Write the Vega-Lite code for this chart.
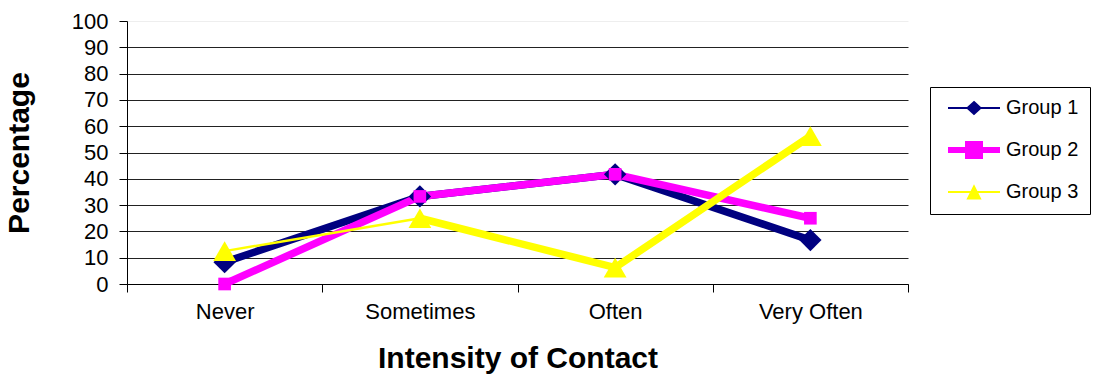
{
  "$schema": "https://vega.github.io/schema/vega-lite/v6.json",
  "width": 781,
  "height": 263,
  "autosize": {"type": "none"},
  "padding": {"left": 127, "top": 21, "right": 189, "bottom": 104},
  "background": "white",
  "config": {
    "font": "Liberation Sans",
    "view": {"stroke": null},
    "axis": {"labelFont": "Liberation Sans", "titleFont": "Liberation Sans", "labelColor": "black", "titleColor": "black"}
  },
  "data": {
    "values": [
      {"contact": "Never", "group": "Group 1", "pct": 8.3},
      {"contact": "Sometimes", "group": "Group 1", "pct": 33.3},
      {"contact": "Often", "group": "Group 1", "pct": 41.7},
      {"contact": "Very Often", "group": "Group 1", "pct": 16.7},
      {"contact": "Never", "group": "Group 2", "pct": 0},
      {"contact": "Sometimes", "group": "Group 2", "pct": 33.3},
      {"contact": "Often", "group": "Group 2", "pct": 41.7},
      {"contact": "Very Often", "group": "Group 2", "pct": 25},
      {"contact": "Never", "group": "Group 3", "pct": 12.5},
      {"contact": "Sometimes", "group": "Group 3", "pct": 25},
      {"contact": "Often", "group": "Group 3", "pct": 6.25},
      {"contact": "Very Often", "group": "Group 3", "pct": 56.25}
    ]
  },
  "encoding": {
    "x": {
      "field": "contact",
      "type": "nominal",
      "sort": ["Never", "Sometimes", "Often", "Very Often"],
      "scale": {"type": "band", "paddingInner": 0, "paddingOuter": 0},
      "axis": {
        "title": "Intensity of Contact",
        "titleFontSize": 30,
        "titleFontWeight": "bold",
        "titlePadding": 21,
        "labelFontSize": 22,
        "labelAngle": 0,
        "labelPadding": 9,
        "tickBand": "extent",
        "tickSize": 8,
        "tickColor": "black",
        "domainColor": "black",
        "grid": false
      }
    },
    "y": {
      "field": "pct",
      "type": "quantitative",
      "scale": {"domain": [0, 100], "nice": false},
      "axis": {
        "title": "Percentage",
        "titleFontSize": 30,
        "titleFontWeight": "bold",
        "titlePadding": 37,
        "labelFontSize": 22,
        "labelPadding": 11,
        "values": [0, 10, 20, 30, 40, 50, 60, 70, 80, 90, 100],
        "tickSize": 8,
        "tickColor": "black",
        "domainColor": "black",
        "grid": true,
        "gridColor": {"condition": {"test": "datum.value === 100", "value": "#eeeeee"}, "value": "#222222"},
        "gridOpacity": 1
      }
    }
  },
  "layer": [
    {
      "transform": [{"filter": "datum.group !== 'Group 3'"}],
      "mark": {"type": "line", "strokeWidth": 7.5},
      "encoding": {
        "color": {
          "field": "group",
          "type": "nominal",
          "scale": {"domain": ["Group 1", "Group 2", "Group 3"], "range": ["#000080", "#FF00FF", "#FFFF00"]},
          "legend": {
            "title": null,
            "orient": "none",
            "legendX": 803,
            "legendY": 66,
            "strokeColor": "black",
            "fillColor": "white",
            "padding": 11,
            "labelFontSize": 20,
            "labelFont": "Liberation Sans",
            "labelColor": "black",
            "symbolSize": 400,
            "rowPadding": 14,
            "labelOffset": 45,
            "values": ["Group 1", "Group 2", "Group 3"],
            "encode": {
              "symbols": {
                "update": {
                  "shape": {"signal": "datum.value === 'Group 1' ? 'M-0.3,0H4.9M2.3,-0.6L2.95,0L2.3,0.6L1.65,0Z' : datum.value === 'Group 2' ? 'M-0.3,0H4.9M1.7,-0.6H2.9V0.6H1.7Z' : 'M-0.3,0H4.9M2.3,-0.55L2.9,0.65H1.7Z'"},
                  "fill": {"signal": "datum.value === 'Group 1' ? '#000080' : datum.value === 'Group 2' ? '#FF00FF' : '#FFFF00'"},
                  "stroke": {"signal": "datum.value === 'Group 1' ? '#000080' : datum.value === 'Group 2' ? '#FF00FF' : '#FFFF00'"},
                  "strokeWidth": {"signal": "datum.value === 'Group 2' ? 6 : 2"},
                  "opacity": {"value": 1},
                  "fillOpacity": {"value": 1}
                }
              }
            }
          }
        }
      }
    },
    {
      "transform": [{"filter": "datum.group === 'Group 3' && (datum.contact === 'Never' || datum.contact === 'Sometimes')"}],
      "mark": {"type": "line", "strokeWidth": 2.5, "color": "#FFFF00"},
      "encoding": {}
    },
    {
      "transform": [{"filter": "datum.group === 'Group 3' && datum.contact !== 'Never'"}],
      "mark": {"type": "line", "strokeWidth": 7.5, "color": "#FFFF00"},
      "encoding": {}
    },
    {
      "transform": [{"filter": "datum.group === 'Group 1'"}],
      "mark": {"type": "point", "filled": true, "opacity": 1, "shape": "diamond", "size": 500, "color": "#000080"}
    },
    {
      "transform": [{"filter": "datum.group === 'Group 2'"}],
      "mark": {"type": "point", "filled": true, "opacity": 1, "shape": "square", "size": 160, "color": "#FF00FF"}
    },
    {
      "transform": [{"filter": "datum.group === 'Group 3'"}],
      "mark": {"type": "point", "filled": true, "opacity": 1, "shape": "triangle-up", "size": 520, "color": "#FFFF00"}
    }
  ]
}
